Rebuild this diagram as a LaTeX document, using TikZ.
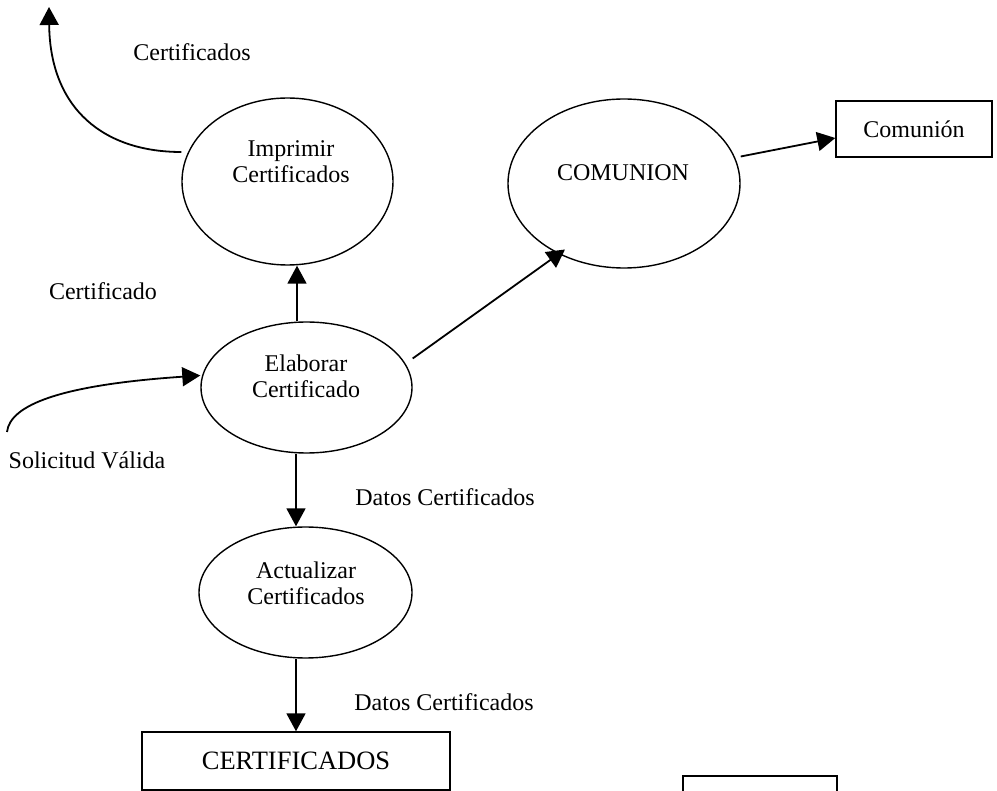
\documentclass[tikz,border=0pt]{standalone}
\usepackage{fontspec}
\setmainfont{Liberation Serif}
\usetikzlibrary{shapes.geometric,arrows.meta,calc}

\tikzset{
  proc/.style={draw, ellipse, line width=1.4pt, inner sep=0pt},
  store/.style={draw, rectangle, line width=1.4pt, inner sep=0pt},
  txt/.style={inner sep=0pt, align=center, font=\fontsize{24}{26}\selectfont},
  flow/.style={line width=1.8pt, -{Triangle[length=18pt,width=19pt]}},
}

\begin{document}
\begin{tikzpicture}[x=1pt,y=-1pt]
  \fill[white] (0,0) rectangle (997,791);
  \useasboundingbox (0,0) rectangle (997,791);

  % processes
  \node[proc, minimum width=211pt, minimum height=167pt] (impr) at (287.5,181.5) {};
  \node[txt] (imprt) at (291,162) {Imprimir\\Certificados};

  \node[proc, minimum width=232pt, minimum height=169pt] (com) at (624,183.5) {};
  \node[txt] (comt) at (623,173) {COMUNION};

  \node[proc, minimum width=211pt, minimum height=131pt] (elab) at (306.5,387.5) {};
  \node[txt] (elabt) at (306,376) {Elaborar\\Certificado};

  \node[proc, minimum width=213pt, minimum height=131pt] (act) at (305.5,592.5) {};
  \node[txt] (actt) at (306,583) {Actualizar\\Certificados};

  % external entities and data store
  \node[store, minimum width=156pt, minimum height=56pt] (cbox) at (914,129)
       {\fontsize{24}{26}\selectfont Comunión};
  \node[store, minimum width=308pt, minimum height=58pt] (cert) at (296,761)
       {\fontsize{26.5}{28}\selectfont CERTIFICADOS};
  \node[store, minimum width=154pt, minimum height=56pt] (extra) at (760,804) {};

  % flow labels
  \node[txt] (lcerts) at (192,52) {Certificados};
  \node[txt] (lcert) at (103,291) {Certificado};
  \node[txt] (lsol) at (87,460) {Solicitud Válida};
  \node[txt] (ldat1) at (445,497) {Datos Certificados};
  \node[txt] (ldat2) at (444,702) {Datos Certificados};

  % free ends and guide columns
  \coordinate (certout) at (49,7);
  \coordinate (solin) at (7,432);
  \coordinate (colA) at (297,0);
  \coordinate (colB) at (296,0);

  % flows
  \draw[flow] ($(impr.west)+(0,-29.5)$) .. controls (105,152) and (50,110) .. (certout);
  \draw[flow] (elab.north -| colA) -- (impr.south -| colA);
  \draw[flow] ($(elab.east)+(0,-29)$) -- ($(com.center)+(-59,66)$);
  \draw[flow] ($(com.east)+(0,-27)$) -- ($(cbox.west)+(0,9)$);
  \draw[flow] (solin) .. controls (10,405) and (60,385) .. ($(elab.west)+(0,-12)$);
  \draw[flow] (elab.south -| colB) -- (act.north -| colB);
  \draw[flow] (act.south -| colB) -- (cert.north -| colB);
\end{tikzpicture}
\end{document}
